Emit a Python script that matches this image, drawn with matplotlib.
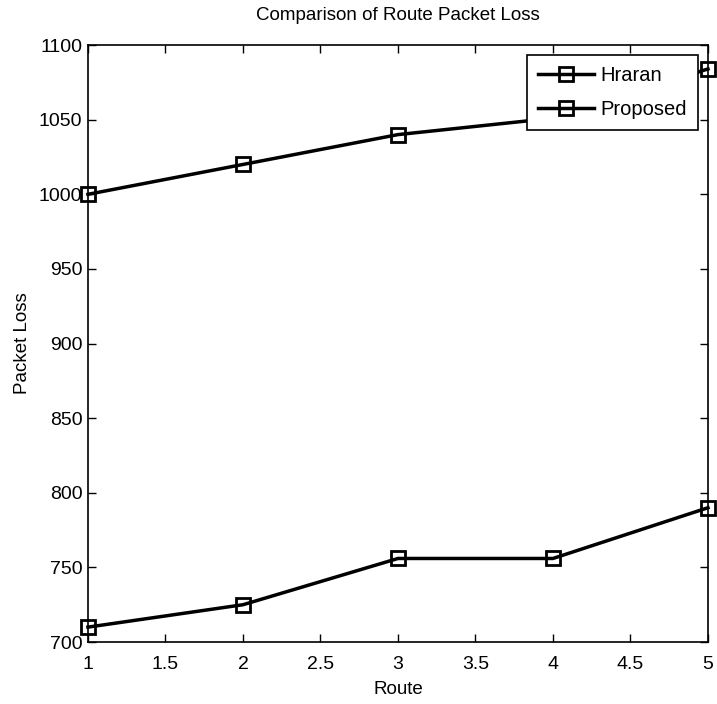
import matplotlib

matplotlib.use("Agg")

import matplotlib.pyplot as plt

routes = [1, 2, 3, 4, 5]
hraran = [1000, 1020, 1040, 1051, 1084]
proposed = [710, 725, 756, 756, 790]

plt.rcParams["font.family"] = ["Liberation Sans Narrow", "Liberation Sans", "DejaVu Sans"]

fig = plt.figure(figsize=(7.17, 7.04), dpi=100)
ax = fig.add_axes([0.1227, 0.088, 0.8647, 0.848])

ax.plot(routes, hraran, color="black", linewidth=2.5, marker="s", markersize=10,
        markerfacecolor="none", markeredgewidth=2, label="Hraran", clip_on=False, zorder=3)
ax.plot(routes, proposed, color="black", linewidth=2.5, marker="s", markersize=10,
        markerfacecolor="none", markeredgewidth=2, label="Proposed", clip_on=False, zorder=3)

ax.set_xlim(1, 5)
ax.set_ylim(700, 1100)
ax.set_xticks([1, 1.5, 2, 2.5, 3, 3.5, 4, 4.5, 5])
ax.set_xticklabels(["1", "1.5", "2", "2.5", "3", "3.5", "4", "4.5", "5"])
ax.set_yticks(range(700, 1101, 50))
ax.tick_params(direction="in", top=True, right=True, length=6, labelsize=14, width=1)
ax.tick_params(axis="x", pad=10)
ax.tick_params(axis="y", pad=4)
for s in ax.spines.values():
    s.set_linewidth(1.2)

ax.set_title("Comparison of Route Packet Loss", fontsize=13.5, pad=18)
ax.set_xlabel("Route", fontsize=13.5, labelpad=6)
ax.set_ylabel("Packet Loss", fontsize=13.5, labelpad=6)

leg = ax.legend(loc="upper right", fontsize=14.5, fancybox=False, framealpha=1,
                edgecolor="black", borderaxespad=0.5, handlelength=2.8,
                labelspacing=0.75, handletextpad=0.3, borderpad=0.55)
leg.get_frame().set_linewidth(1.2)
leg.set_zorder(5)

plt.savefig("out.png", dpi=100)
